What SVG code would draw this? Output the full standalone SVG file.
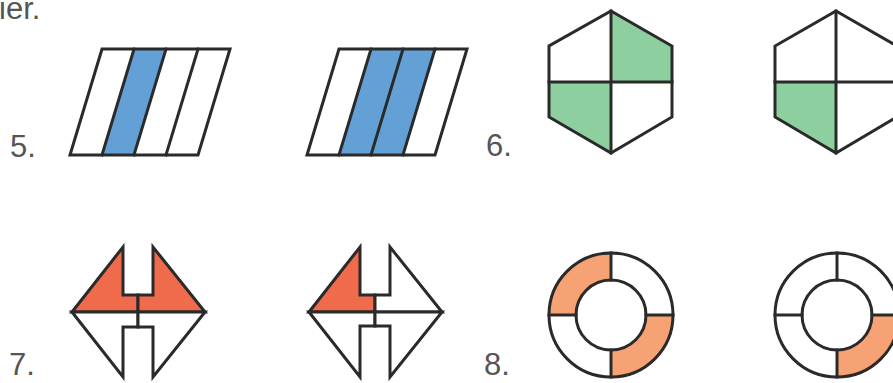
<svg xmlns="http://www.w3.org/2000/svg" width="893" height="383" viewBox="0 0 893 383">
<style>
.ln{fill:none;stroke:#2a2a2a;stroke-width:3;stroke-linejoin:miter;stroke-linecap:square}
.sh{stroke:#2a2a2a;stroke-width:3;stroke-linejoin:miter}
.w{fill:#ffffff}
.blue{fill:#62a0d6}
.green{fill:#8dcf9e}
.red{fill:#f06a4c}
.sal{fill:#f7a274}
.lbl{font-family:"Liberation Sans",Arial,sans-serif;font-size:31px;fill:#555555}
</style>
<rect width="893" height="383" fill="#ffffff"/>
<text class="lbl" x="-1" y="19">ier.</text>
<g id="label5"><text class="lbl" x="10" y="157">5.</text></g>
<g id="label6"><text class="lbl" x="486" y="156">6.</text></g>
<g id="label7"><text class="lbl" x="9" y="375">7.</text></g>
<g id="label8"><text class="lbl" x="484" y="375">8.</text></g>

<g id="fig5a">
  <polygon class="blue" points="134,49 166,49 134,155 102,155"/>
  <polygon class="ln" points="102,49 230,49 198,155 70,155"/>
  <line class="ln" x1="134" y1="49" x2="102" y2="155"/>
  <line class="ln" x1="166" y1="49" x2="134" y2="155"/>
  <line class="ln" x1="198" y1="49" x2="166" y2="155"/>
</g>
<g id="fig5b">
  <polygon class="blue" points="371,49 435,49 403,155 339,155"/>
  <polygon class="ln" points="339,49 467,49 435,155 307,155"/>
  <line class="ln" x1="371" y1="49" x2="339" y2="155"/>
  <line class="ln" x1="403" y1="49" x2="371" y2="155"/>
  <line class="ln" x1="435" y1="49" x2="403" y2="155"/>
</g>

<g id="fig6a">
  <polygon class="green" points="611,11 672,46 672,82 611,82"/>
  <polygon class="green" points="611,82 611,153 549,117 549,82"/>
  <polygon class="ln" points="611,11 672,46 672,117 611,153 549,117 549,46"/>
  <line class="ln" x1="611" y1="11" x2="611" y2="153"/>
  <line class="ln" x1="549" y1="82" x2="672" y2="82"/>
</g>
<g id="fig6b">
  <polygon class="green" points="836,82 836,153 775,117 775,82"/>
  <polygon class="ln" points="836,11 897,46 897,117 836,153 775,117 775,46"/>
  <line class="ln" x1="836" y1="11" x2="836" y2="153"/>
  <line class="ln" x1="775" y1="82" x2="897" y2="82"/>
</g>

<g id="fig7a">
  <path class="sh red" d="M72,312 L123,247 L123,295 L138,295 L138,312 Z"/>
  <path class="sh red" d="M205,312 L153,247 L153,295 L138,295 L138,312 Z"/>
  <path class="sh w" d="M72,312 L123,377 L123,327 L138,327 L138,312 Z"/>
  <path class="sh w" d="M205,312 L153,377 L153,327 L138,327 L138,312 Z"/>
</g>
<g id="fig7b">
  <path class="sh red" d="M309,312 L360,247 L360,295 L375,295 L375,312 Z"/>
  <path class="sh w" d="M442,312 L390,247 L390,295 L375,295 L375,312 Z"/>
  <path class="sh w" d="M309,312 L360,377 L360,326 L375,326 L375,312 Z"/>
  <path class="sh w" d="M442,312 L390,377 L390,326 L375,326 L375,312 Z"/>
</g>

<g id="fig8a">
  <path class="sal" d="M549,315 A62,62 0 0 1 611,253 L611,280 A35,35 0 0 0 576,315 Z"/>
  <path class="sal" d="M673,315 A62,62 0 0 1 611,377 L611,350 A35,35 0 0 0 646,315 Z"/>
  <circle class="ln" cx="611" cy="315" r="62"/>
  <circle class="ln" cx="611" cy="315" r="35"/>
  <line class="ln" x1="611" y1="253" x2="611" y2="280"/>
  <line class="ln" x1="611" y1="350" x2="611" y2="377"/>
  <line class="ln" x1="549" y1="315" x2="576" y2="315"/>
  <line class="ln" x1="646" y1="315" x2="673" y2="315"/>
</g>
<g id="fig8b">
  <path class="sal" d="M899,315 A62,62 0 0 1 837,377 L837,350 A35,35 0 0 0 872,315 Z"/>
  <circle class="ln" cx="837" cy="315" r="62"/>
  <circle class="ln" cx="837" cy="315" r="35"/>
  <line class="ln" x1="837" y1="253" x2="837" y2="280"/>
  <line class="ln" x1="837" y1="350" x2="837" y2="377"/>
  <line class="ln" x1="775" y1="315" x2="802" y2="315"/>
  <line class="ln" x1="872" y1="315" x2="899" y2="315"/>
</g>
</svg>
